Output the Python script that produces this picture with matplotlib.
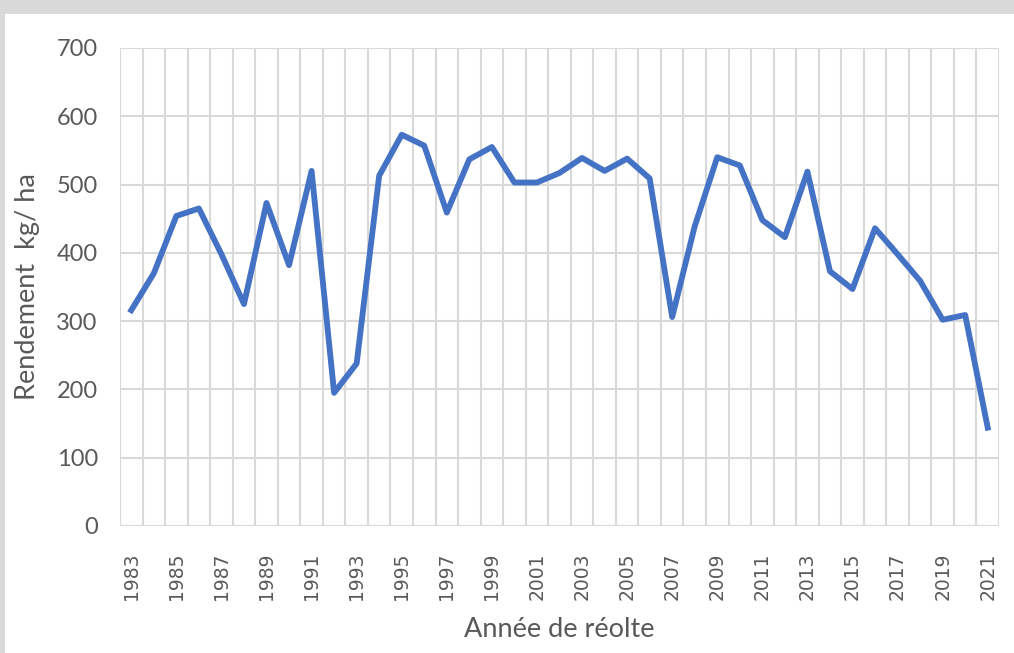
import numpy as np
import matplotlib.pyplot as plt
from matplotlib.patches import Rectangle

# années de récolte et rendement (kg/ha)
annees = list(range(1983, 2022))
rendement = [316, 370, 454, 465, 398, 325, 473, 382, 520, 195,
             238, 513, 573, 557, 459, 537, 555, 503, 503, 517,
             539, 520, 538, 509, 306, 439, 540, 528, 448, 423,
             519, 373, 347, 436, 398, 359, 302, 309, 144]
yticks = [0, 100, 200, 300, 400, 500, 600, 700]

gris_texte = "#595959"
gris_grille = "#d9d9d9"

fig = plt.figure(figsize=(10.14, 6.53), dpi=100)
fig.patch.set_facecolor(gris_grille)
# zone blanche du graphique
fig.patches.append(Rectangle((5 / 1014, 0), 1, 1 - 14 / 653, transform=fig.transFigure,
                             facecolor="white", edgecolor="none", zorder=-1))

ax = fig.add_axes([120 / 1014, 127 / 653, 879 / 1014, 478 / 653])
ax.set_facecolor("white")

x = np.arange(len(annees))
ax.plot(x, rendement, color="#4472C4", linewidth=4.2, solid_joinstyle="round", zorder=3)

ax.set_xlim(-0.5, len(annees) - 0.5)
ax.set_ylim(0, 700)
ax.set_yticks(yticks)
ax.set_yticklabels([str(v) for v in yticks], fontsize=17, color=gris_texte, family="Lato")

ax.set_xticks(x[::2])
ax.set_xticklabels([str(a) for a in annees[::2]], rotation=90, fontsize=13.5,
                   color=gris_texte, family="DejaVu Sans")
ax.set_xticks(np.arange(-0.5, len(annees)), minor=True)

ax.tick_params(axis="both", which="both", length=0)
ax.tick_params(axis="y", pad=16)
ax.tick_params(axis="x", pad=19)

ax.grid(True, axis="y", color=gris_grille, linewidth=1.5)
ax.grid(True, axis="x", which="minor", color=gris_grille, linewidth=1.5)
ax.grid(False, axis="x", which="major")
for s in ax.spines.values():
    s.set_visible(False)

ax.set_xlabel("Année de réolte", fontsize=19.5, color=gris_texte, family="Lato", labelpad=12)
ax.set_ylabel("Rendement  kg/ ha", fontsize=19.5, color=gris_texte, family="Lato", labelpad=12)

plt.savefig("out.png", dpi=100)
